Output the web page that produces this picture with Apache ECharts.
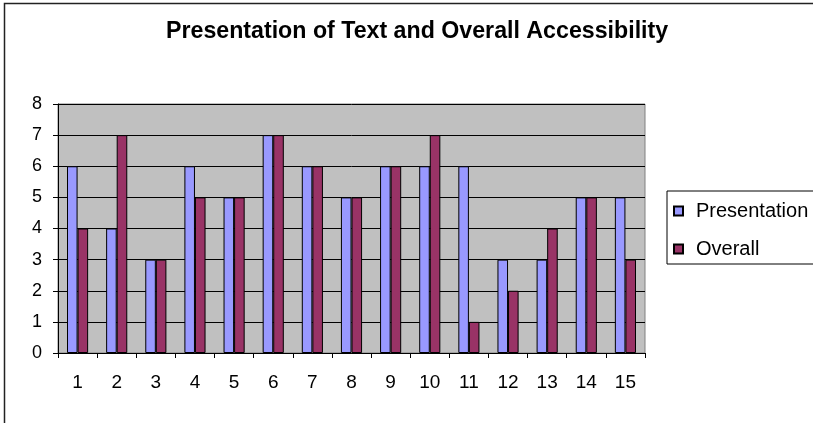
<!DOCTYPE html>
<html>
<head>
<meta charset="utf-8">
<script src="https://cdn.jsdelivr.net/npm/echarts@6/dist/echarts.min.js"></script>
<style>
  html, body { margin: 0; padding: 0; background: #fff; overflow: hidden; }
  #chart { width: 900px; height: 423px; }
</style>
</head>
<body>
<div id="chart"></div>
<script>
// Survey sites 1-15 and their scores
const categories = ['1', '2', '3', '4', '5', '6', '7', '8', '9', '10', '11', '12', '13', '14', '15'];
const presentation = [6, 4, 3, 6, 5, 7, 6, 5, 6, 6, 6, 3, 3, 5, 5];
const overall = [4, 7, 3, 5, 5, 7, 6, 5, 6, 7, 1, 2, 4, 5, 3];
const yTicks = [0, 1, 2, 3, 4, 5, 6, 7, 8];

const FONT = '"Liberation Sans", Arial, sans-serif';

// the canvas runs past the right edge of the window, so the frame and
// the legend box continue off-screen
const chart = echarts.init(document.getElementById('chart'), null, { renderer: 'canvas' });

chart.setOption({
  animation: false,
  backgroundColor: '#ffffff',
  textStyle: { fontFamily: FONT, color: '#000' },
  title: {
    text: 'Presentation of Text and Overall Accessibility',
    left: 166,
    top: 20,
    padding: 0,
    textStyle: { fontFamily: FONT, fontSize: 23.2, fontWeight: 'bold', color: '#000' }
  },
  // chart-area frame: left and top edges
  graphic: [{
    type: 'polyline',
    silent: true,
    z: 100,
    shape: { points: [[4.5, 500], [4.5, 3.5], [1000, 3.5]] },
    style: { fill: 'none', stroke: '#222', lineWidth: 1.5 }
  }],
  legend: {
    orient: 'vertical',
    left: 667,
    top: 191,
    padding: [10, 40, 5, 6],
    itemWidth: 9,
    itemHeight: 9,
    itemGap: 18,
    borderColor: '#000',
    borderWidth: 1,
    backgroundColor: '#fff',
    icon: 'rect',
    textStyle: { fontFamily: FONT, fontSize: 20, lineHeight: 20, color: '#000', padding: [0, 0, 0, 8] },
    data: ['Presentation', 'Overall']
  },
  grid: {
    left: 58,
    top: 104,
    right: 255,
    bottom: 70,
    show: true,
    backgroundColor: '#c0c0c0',
    borderColor: '#808080',
    borderWidth: 1
  },
  xAxis: {
    type: 'category',
    data: categories,
    boundaryGap: true,
    axisLine: { show: true, lineStyle: { color: '#000', width: 1 } },
    axisTick: { show: true, alignWithLabel: false, length: 5, lineStyle: { color: '#000' } },
    axisLabel: { fontFamily: FONT, fontSize: 19, color: '#000', margin: 20 },
    splitLine: { show: false }
  },
  yAxis: {
    type: 'value',
    min: yTicks[0],
    max: yTicks[yTicks.length - 1],
    interval: 1,
    axisLine: { show: true, lineStyle: { color: '#000', width: 1 } },
    axisTick: { show: true, length: 5, lineStyle: { color: '#000' } },
    axisLabel: { fontFamily: FONT, fontSize: 18, color: '#000', margin: 16 },
    splitLine: { show: true, lineStyle: { color: '#000', width: 1 } }
  },
  series: [
    {
      name: 'Presentation',
      type: 'bar',
      data: presentation,
      barGap: '0%',
      barCategoryGap: '46%',
      itemStyle: { color: '#9999ff', borderColor: '#000', borderWidth: 1 }
    },
    {
      name: 'Overall',
      type: 'bar',
      data: overall,
      barGap: '0%',
      barCategoryGap: '46%',
      itemStyle: { color: '#993366', borderColor: '#000', borderWidth: 1 }
    }
  ]
});
</script>
</body>
</html>
